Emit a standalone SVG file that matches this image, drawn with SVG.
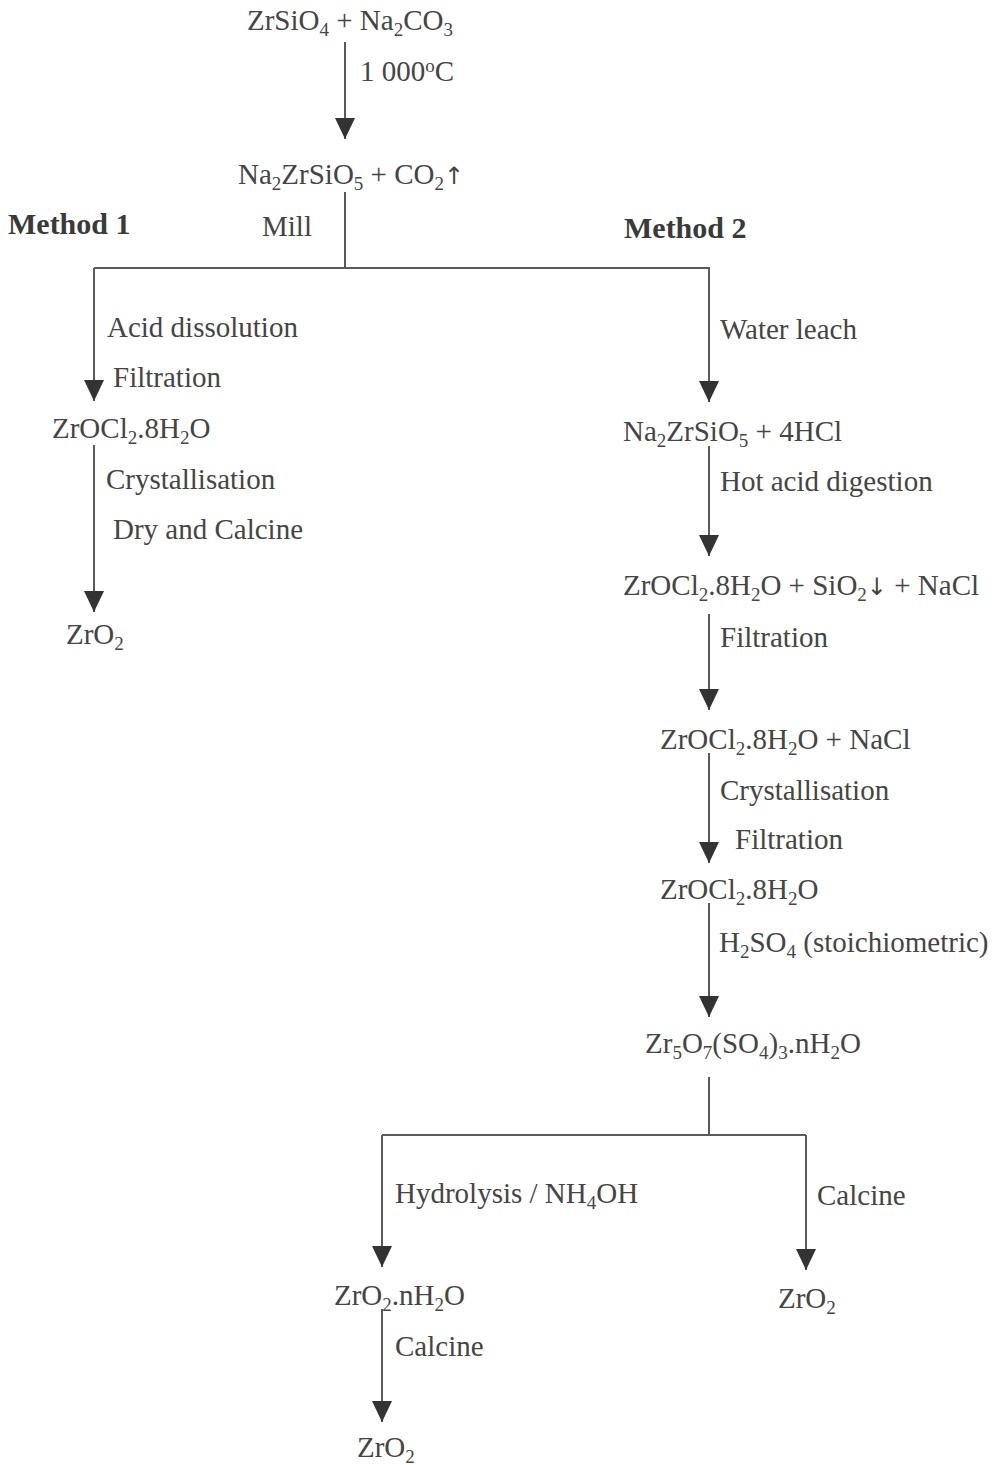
<svg xmlns="http://www.w3.org/2000/svg" width="1000" height="1465" viewBox="0 0 1000 1465">
<defs>
<style>
text{font-family:"Liberation Serif","Times New Roman",serif;font-size:29px;fill:#454545}
.b{font-weight:bold;font-size:30px;fill:#3a3a3a}
.s{font-size:19px;baseline-shift:-6px}
.sup{font-size:19px;baseline-shift:9px}
.arw{font-family:"DejaVu Sans",sans-serif;font-size:24px}
.ln{stroke:#5a5a5a;stroke-width:2;fill:none}
.ar{marker-end:url(#ah)}
</style>
<marker id="ah" viewBox="0 0 21 20" refX="21" refY="10" markerWidth="21" markerHeight="20" markerUnits="userSpaceOnUse" orient="auto">
<path d="M0,0 L21,10 L0,20 z" fill="#333"/>
</marker>
</defs>
<rect width="1000" height="1465" fill="#fff"/>
<g id="connectors">
<line class="ln ar" x1="345" y1="42" x2="345" y2="139"/>
<line class="ln" x1="345" y1="192" x2="345" y2="268"/>
<line class="ln" x1="94" y1="268" x2="710" y2="268"/>
<line class="ln ar" x1="94" y1="268" x2="94" y2="401"/>
<line class="ln ar" x1="94" y1="445" x2="94" y2="612"/>
<line class="ln ar" x1="709" y1="268" x2="709" y2="402"/>
<line class="ln ar" x1="709" y1="446" x2="709" y2="556"/>
<line class="ln ar" x1="709" y1="614" x2="709" y2="710"/>
<line class="ln ar" x1="709" y1="753" x2="709" y2="863"/>
<line class="ln ar" x1="709" y1="903" x2="709" y2="1017"/>
<line class="ln" x1="709" y1="1077" x2="709" y2="1135"/>
<line class="ln" x1="382" y1="1135" x2="806" y2="1135"/>
<line class="ln ar" x1="382" y1="1135" x2="382" y2="1267"/>
<line class="ln ar" x1="806" y1="1135" x2="806" y2="1270"/>
<line class="ln ar" x1="382" y1="1309" x2="382" y2="1422"/>
</g>
<g id="labels">
<text x="360" y="81">1 000<tspan class="sup">o</tspan>C</text>
<text x="262" y="236">Mill</text>
<text class="b" x="8" y="234">Method 1</text>
<text class="b" x="624" y="238">Method 2</text>
<text x="107" y="337">Acid dissolution</text>
<text x="113" y="387">Filtration</text>
<text x="106" y="489">Crystallisation</text>
<text x="113" y="539">Dry and Calcine</text>
<text x="720" y="339">Water leach</text>
<text x="720" y="491">Hot acid digestion</text>
<text x="720" y="647">Filtration</text>
<text x="720" y="800">Crystallisation</text>
<text x="735" y="849">Filtration</text>
<text x="719" y="952">H<tspan class="s">2</tspan>SO<tspan class="s">4</tspan> (stoichiometric)</text>
<text x="395" y="1203">Hydrolysis / NH<tspan class="s">4</tspan>OH</text>
<text x="817" y="1205">Calcine</text>
<text x="395" y="1356">Calcine</text>
</g>
<g id="n1"><text x="247" y="30">ZrSiO<tspan class="s">4</tspan> + Na<tspan class="s">2</tspan>CO<tspan class="s">3</tspan></text></g>
<g id="n2"><text x="238" y="184">Na<tspan class="s">2</tspan>ZrSiO<tspan class="s">5</tspan> + CO<tspan class="s">2</tspan><tspan class="arw">↑</tspan></text></g>
<g id="n3"><text x="52" y="438">ZrOCl<tspan class="s">2</tspan>.8H<tspan class="s">2</tspan>O</text></g>
<g id="n4"><text x="66" y="644">ZrO<tspan class="s">2</tspan></text></g>
<g id="n5"><text x="623" y="441">Na<tspan class="s">2</tspan>ZrSiO<tspan class="s">5</tspan> + 4HCl</text></g>
<g id="n6"><text x="623" y="595">ZrOCl<tspan class="s">2</tspan>.8H<tspan class="s">2</tspan>O + SiO<tspan class="s">2</tspan><tspan class="arw">↓</tspan> + NaCl</text></g>
<g id="n7"><text x="660" y="749">ZrOCl<tspan class="s">2</tspan>.8H<tspan class="s">2</tspan>O + NaCl</text></g>
<g id="n8"><text x="660" y="899">ZrOCl<tspan class="s">2</tspan>.8H<tspan class="s">2</tspan>O</text></g>
<g id="n9"><text x="645" y="1053">Zr<tspan class="s">5</tspan>O<tspan class="s">7</tspan>(SO<tspan class="s">4</tspan>)<tspan class="s">3</tspan>.nH<tspan class="s">2</tspan>O</text></g>
<g id="n10"><text x="334" y="1305">ZrO<tspan class="s">2</tspan>.nH<tspan class="s">2</tspan>O</text></g>
<g id="n11"><text x="778" y="1308">ZrO<tspan class="s">2</tspan></text></g>
<g id="n12"><text x="357" y="1457">ZrO<tspan class="s">2</tspan></text></g>
</svg>
